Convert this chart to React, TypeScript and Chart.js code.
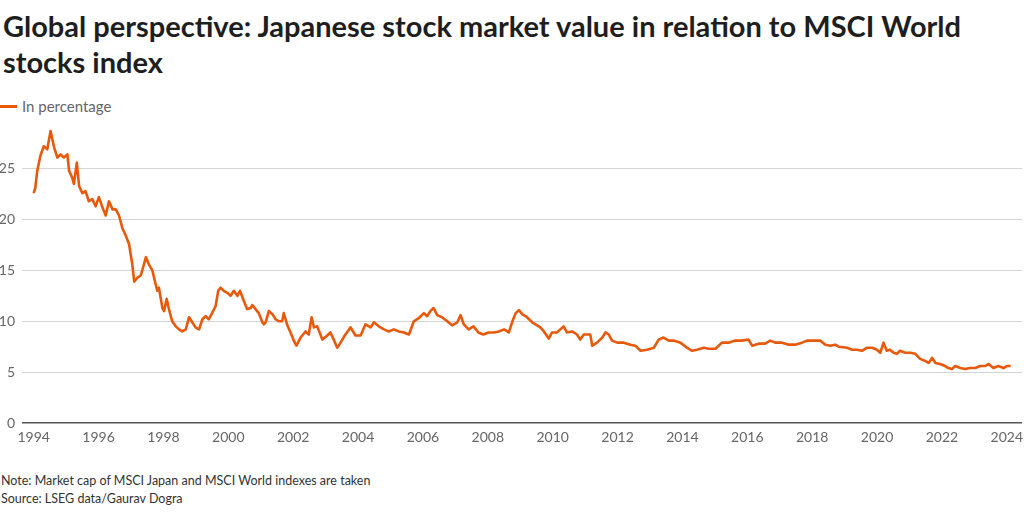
import React, { useEffect, useRef } from "react";
import { Chart, registerables } from "chart.js";

Chart.register(...registerables);

const TITLE_LINE_1 = "Global perspective: Japanese stock market value in relation to MSCI World";
const TITLE_LINE_2 = "stocks index";
const SERIES_LABEL = "In percentage";
const NOTE = "Note: Market cap of MSCI Japan and MSCI World indexes are taken";
const SOURCE = "Source: LSEG data/Gaurav Dogra";

const Y_TICKS = [0, 5, 10, 15, 20, 25];

// decimal years
const years = [
  1994.0, 1994.05, 1994.11, 1994.21, 1994.31, 1994.42, 1994.52, 1994.63, 1994.73, 1994.83, 1994.93,
  1995.04, 1995.09, 1995.19, 1995.24, 1995.33, 1995.4, 1995.5, 1995.6, 1995.7, 1995.81, 1995.91,
  1996.01, 1996.12, 1996.22, 1996.32, 1996.43, 1996.53, 1996.63, 1996.73, 1996.84, 1996.94, 1996.99,
  1997.04, 1997.1, 1997.2, 1997.3, 1997.4, 1997.46, 1997.55, 1997.66, 1997.71, 1997.81, 1997.86, 1997.97,
  1998.02, 1998.1, 1998.17, 1998.27, 1998.38, 1998.48, 1998.58, 1998.69, 1998.79, 1998.89, 1998.99,
  1999.1, 1999.2, 1999.3, 1999.4, 1999.5, 1999.61, 1999.69, 1999.76, 1999.86, 1999.97,
  2000.07, 2000.17, 2000.28, 2000.36, 2000.48, 2000.58, 2000.69, 2000.74, 2000.89, 2000.94,
  2001.05, 2001.1, 2001.15, 2001.25, 2001.36, 2001.46, 2001.56, 2001.66, 2001.71, 2001.82, 2001.92,
  2002.02, 2002.1, 2002.23, 2002.38, 2002.48, 2002.57, 2002.64, 2002.74, 2002.9,
  2003.05, 2003.15, 2003.25, 2003.36, 2003.46, 2003.61, 2003.77, 2003.92,
  2004.08, 2004.23, 2004.39, 2004.49, 2004.64, 2004.8, 2004.95,
  2005.1, 2005.26, 2005.41, 2005.57, 2005.72, 2005.87,
  2006.03, 2006.13, 2006.23, 2006.33, 2006.44, 2006.59, 2006.75, 2006.9,
  2007.06, 2007.16, 2007.26, 2007.41, 2007.56, 2007.71, 2007.86,
  2008.02, 2008.19, 2008.34, 2008.5, 2008.65, 2008.76, 2008.86, 2008.96,
  2009.06, 2009.21, 2009.37, 2009.52, 2009.62, 2009.73, 2009.88, 2009.98,
  2010.13, 2010.34, 2010.44, 2010.6, 2010.75, 2010.85, 2010.96,
  2011.16, 2011.22, 2011.37, 2011.53, 2011.63, 2011.73, 2011.83, 2011.99,
  2012.19, 2012.4, 2012.55, 2012.71, 2012.91,
  2013.12, 2013.27, 2013.42, 2013.58, 2013.73, 2013.94,
  2014.14, 2014.3, 2014.45, 2014.66, 2014.81,
  2015.02, 2015.22, 2015.42, 2015.63, 2015.83,
  2016.04, 2016.15, 2016.35, 2016.55, 2016.71, 2016.86,
  2017.07, 2017.28, 2017.48, 2017.69, 2017.84,
  2018.05, 2018.25, 2018.41, 2018.56, 2018.71, 2018.82,
  2019.08, 2019.23, 2019.38, 2019.54, 2019.69, 2019.85,
  2020.0, 2020.1, 2020.2, 2020.3, 2020.4, 2020.51, 2020.61, 2020.71, 2020.87,
  2021.03, 2021.18, 2021.33, 2021.49, 2021.59, 2021.7, 2021.8, 2021.95,
  2022.1, 2022.2, 2022.31, 2022.41, 2022.57, 2022.72, 2022.87,
  2023.03, 2023.18, 2023.33, 2023.44, 2023.59, 2023.74, 2023.9,
  2024.0, 2024.12,
];

// Japan share of MSCI World, in percent
const shares = [
  22.6, 23.1, 24.8, 26.3, 27.2, 26.9, 28.7, 27.1, 26.1, 26.4, 26.1,
  26.4, 24.8, 24.1, 23.5, 25.6, 23.3, 22.6, 22.8, 21.8, 22.0, 21.3,
  22.2, 21.2, 20.4, 21.8, 21.0, 21.0, 20.4, 19.2, 18.4, 17.6, 16.6,
  15.6, 13.9, 14.3, 14.5, 15.6, 16.3, 15.6, 15.0, 14.3, 13.0, 13.3, 11.3,
  11.0, 12.2, 11.2, 10.0, 9.5, 9.2, 9.0, 9.2, 10.4, 9.9, 9.4,
  9.2, 10.2, 10.5, 10.2, 10.8, 11.5, 13.0, 13.3, 13.0, 12.8,
  12.5, 13.0, 12.5, 13.0, 12.0, 11.2, 11.3, 11.6, 11.0, 10.8,
  9.9, 9.7, 9.9, 11.0, 10.7, 10.2, 10.0, 10.0, 10.8, 9.6, 8.9,
  8.1, 7.6, 8.4, 9.0, 8.7, 10.4, 9.4, 9.5, 8.2,
  8.6, 8.9, 8.2, 7.4, 7.9, 8.7, 9.4, 8.6,
  8.6, 9.7, 9.4, 9.9, 9.5, 9.2, 9.0,
  9.2, 9.0, 8.9, 8.7, 10.0, 10.3,
  10.8, 10.5, 11.0, 11.3, 10.6, 10.4, 10.0, 9.6,
  9.9, 10.6, 9.7, 9.2, 9.5, 8.9, 8.7,
  8.9, 8.9, 9.0, 9.2, 8.9, 10.0, 10.8, 11.1,
  10.7, 10.4, 9.9, 9.6, 9.4, 9.0, 8.3, 8.9,
  8.9, 9.5, 8.9, 9.0, 8.7, 8.2, 8.7,
  8.7, 7.6, 7.9, 8.4, 8.9, 8.7, 8.1, 7.9,
  7.9, 7.7, 7.6, 7.1, 7.2,
  7.4, 8.2, 8.4, 8.1, 8.1, 7.9,
  7.4, 7.1, 7.2, 7.4, 7.3,
  7.3, 7.9, 7.9, 8.1, 8.1,
  8.2, 7.6, 7.8, 7.8, 8.1, 7.9,
  7.9, 7.7, 7.7, 7.9, 8.1,
  8.1, 8.1, 7.7, 7.6, 7.7, 7.5,
  7.4, 7.2, 7.2, 7.1, 7.4, 7.4,
  7.2, 6.9, 7.9, 7.1, 7.2, 6.9, 6.8, 7.1, 6.9,
  6.9, 6.8, 6.3, 6.1, 5.9, 6.4, 5.9, 5.8,
  5.6, 5.4, 5.3, 5.6, 5.4, 5.3, 5.4,
  5.4, 5.6, 5.6, 5.8, 5.4, 5.6, 5.4,
  5.6, 5.6,
];

const FONT = "Lato, 'Open Sans', sans-serif";
const ORANGE = "#e8590c";

const zeroPadding = (s: any) => {
  s.paddingLeft = 0;
  s.paddingRight = 0;
  s.paddingTop = 0;
  s.paddingBottom = 0;
};

export default function App() {
  const canvasRef = useRef<HTMLCanvasElement | null>(null);

  useEffect(() => {
    const canvas = canvasRef.current;
    if (!canvas) return;
    const points = years.map((y, i) => ({ x: y, y: shares[i] }));
    const chart = new Chart(canvas, {
      type: "line",
      data: {
        datasets: [
          {
            label: SERIES_LABEL,
            data: points,
            borderColor: ORANGE,
            backgroundColor: ORANGE,
            borderWidth: 2.6,
            pointRadius: 0,
            tension: 0,
            borderJoinStyle: "round",
          },
        ],
      },
      options: {
        responsive: false,
        animation: false,
        layout: { padding: { top: 8, right: 2, left: 0, bottom: 0 } },
        plugins: { legend: { display: false }, tooltip: { enabled: false } },
        scales: {
          x: {
            type: "linear",
            min: 1993.64,
            max: 2024.47,
            afterFit: (s: any) => {
              s.height = 27;
              zeroPadding(s);
            },
            grid: { display: false, drawTicks: false },
            border: { display: false },
            ticks: {
              stepSize: 2,
              includeBounds: false,
              autoSkip: false,
              maxRotation: 0,
              padding: 6,
              color: "#666",
              font: { family: FONT, size: 14 },
              callback: (v: any) => String(v),
            },
          },
          y: {
            min: 0,
            max: 29,
            afterFit: (s: any) => {
              s.width = 22;
              zeroPadding(s);
            },
            afterBuildTicks: (s: any) => {
              s.ticks = Y_TICKS.map((v) => ({ value: v }));
            },
            grid: {
              drawTicks: false,
              color: (ctx: any) => (ctx.tick && ctx.tick.value === 0 ? "#555" : "#d4d4d4"),
              lineWidth: (ctx: any) => (ctx.tick && ctx.tick.value === 0 ? 1.6 : 1),
            },
            border: { display: false },
            ticks: {
              padding: 7,
              color: "#666",
              font: { family: FONT, size: 14 },
              callback: (v: any) => String(v),
            },
          },
        },
      },
    });
    return () => chart.destroy();
  }, []);

  return (
    <div
      style={{
        position: "fixed",
        left: 0,
        top: 0,
        width: 1024,
        height: 512,
        background: "#fff",
        fontFamily: FONT,
        overflow: "hidden",
      }}
    >
      <div
        style={{
          position: "absolute",
          left: 3,
          top: 8,
          fontSize: 29,
          fontWeight: 700,
          lineHeight: "36px",
          color: "#1e1e1e",
          whiteSpace: "nowrap",
        }}
      >
        {TITLE_LINE_1}
        <br />
        {TITLE_LINE_2}
      </div>
      <div style={{ position: "absolute", left: 0, top: 97, height: 18, display: "flex", alignItems: "center" }}>
        <div style={{ width: 17, height: 3, background: ORANGE, marginRight: 5 }} />
        <span style={{ fontSize: 15, color: "#666" }}>{SERIES_LABEL}</span>
      </div>
      <canvas
        ref={canvasRef}
        width={1024}
        height={330}
        style={{ position: "absolute", left: 0, top: 120, width: 1024, height: 330 }}
      />
      <div style={{ position: "absolute", left: 1, top: 472, fontSize: 12.5, color: "#333", lineHeight: "18px" }}>
        <div>{NOTE}</div>
        <div>{SOURCE}</div>
      </div>
    </div>
  );
}
